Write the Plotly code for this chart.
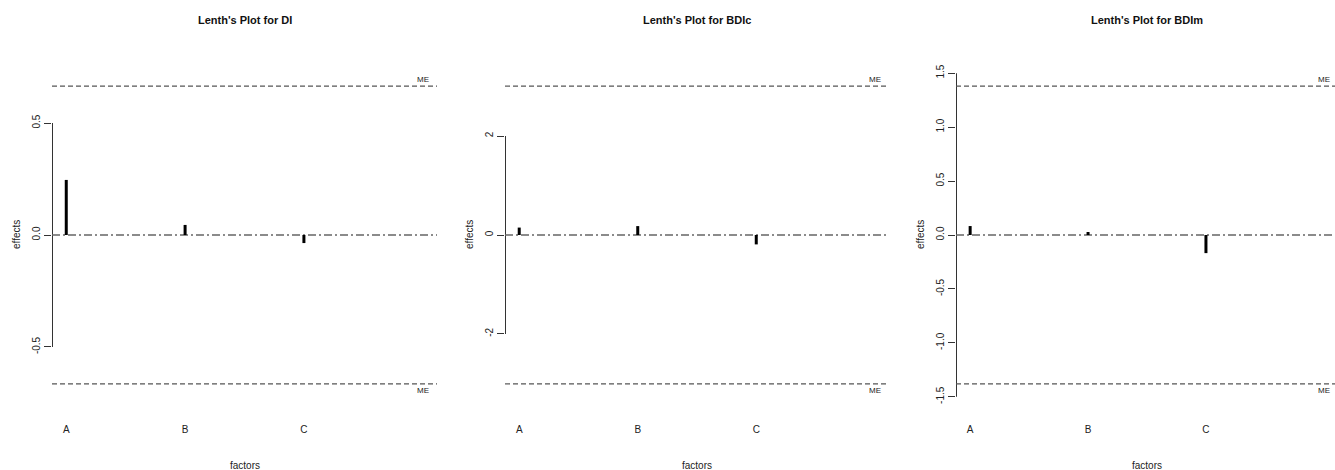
import plotly.graph_objects as go

# ---- data ----
factors = ["A", "B", "C"]
responses = ["DI", "BDIc", "BDIm"]
effects_DI = [0.246, 0.045, -0.036]
effects_BDIc = [0.15, 0.18, -0.19]
effects_BDIm = [0.083, 0.028, -0.168]
me_values = [0.665, 3.01, 1.38]
ytick_vals = [[-0.5, 0.0, 0.5], [-2, 0, 2], [-1.5, -1.0, -0.5, 0.0, 0.5, 1.0, 1.5]]
ytick_text = [["-0.5", "0.0", "0.5"], ["-2", "0", "2"],
              ["-1.5", "-1.0", "-0.5", "0.0", "0.5", "1.0", "1.5"]]
effects_all = [effects_DI, effects_BDIc, effects_BDIm]

W, H = 1335, 470
FONT = "Liberation Sans, Arial, sans-serif"
# panel pixel extents
px_left = [52, 505, 956]
px_right = [437, 889, 1338]
top_px, bot_px = 62, 408
xr = [0.88, 4.12]
# y half-range relative to ME (same layout in all panels)
yscale = 1.162

fig = go.Figure()
layout = dict(
    width=W, height=H, margin=dict(l=0, r=0, t=0, b=0),
    paper_bgcolor="white", plot_bgcolor="white", showlegend=False,
    font=dict(family=FONT, size=10, color="#222"),
)
annotations = []

xpos = list(range(1, len(factors) + 1))
for i, (resp, eff, me) in enumerate(zip(responses, effects_all, me_values)):
    n = i + 1
    xa = "x" if n == 1 else f"x{n}"
    ya = "y" if n == 1 else f"y{n}"
    yr = me * yscale
    dom_x = [px_left[i] / W, min(px_right[i], W) / W]
    xr_i = list(xr)
    if px_right[i] > W:
        # clip the last panel at the page edge, keeping the same scale
        scale = (xr[1] - xr[0]) / (px_right[i] - px_left[i])
        xr_i[1] = xr[0] + (W - px_left[i]) * scale
    dom_y = [1 - bot_px / H, 1 - top_px / H]
    layout[f"xaxis{'' if n == 1 else n}"] = dict(
        domain=dom_x, range=xr_i, anchor=ya, showgrid=False, zeroline=False,
        showline=False, tickvals=xpos, ticktext=factors, ticks="outside",
        ticklen=12, tickcolor="rgba(0,0,0,0)", tickfont=dict(size=10, color="#222"),
        fixedrange=True,
    )
    layout[f"yaxis{'' if n == 1 else n}"] = dict(
        domain=dom_y, range=[-yr, yr], anchor=xa, showgrid=False, zeroline=False,
        showline=False, tickvals=ytick_vals[i], ticktext=ytick_text[i],
        ticks="outside", ticklen=7, tickcolor="#333", tickwidth=1,
        tickangle=-90, tickfont=dict(size=10, color="#222"), fixedrange=True,
    )
    # y axis line spanning tick range (R style)
    tv = ytick_vals[i]
    fig.add_trace(go.Scatter(x=[xr_i[0], xr_i[0]], y=[min(tv), max(tv)], mode="lines",
                             line=dict(color="#333", width=2), xaxis=xa, yaxis=ya,
                             hoverinfo="skip"))
    # zero line (dot-dash)
    fig.add_trace(go.Scatter(x=xr_i, y=[0, 0], mode="lines",
                             line=dict(color="#666", width=1.3, dash="8px,3px,2px,3px"),
                             xaxis=xa, yaxis=ya, hoverinfo="skip"))
    # ME lines
    for s in (1, -1):
        fig.add_trace(go.Scatter(x=xr_i, y=[s * me, s * me], mode="lines",
                                 line=dict(color="#555", width=1.2, dash="5px,3px"),
                                 xaxis=xa, yaxis=ya, hoverinfo="skip"))
        annotations.append(dict(x=4, y=s * me, xref=xa, yref=ya, text="ME",
                                showarrow=False, yshift=7 * s,
                                font=dict(size=8, color="#222")))
    # effect bars
    bx, by = [], []
    for xv, ev in zip(xpos, eff):
        bx += [xv, xv, None]
        by += [0, ev, None]
    fig.add_trace(go.Scatter(x=bx, y=by, mode="lines",
                             line=dict(color="black", width=3),
                             xaxis=xa, yaxis=ya, hoverinfo="skip"))
    cx = (px_left[i] + px_right[i]) / 2 / W
    annotations.append(dict(x=cx, y=1 - 20 / H, xref="paper", yref="paper",
                            text=f"<b>Lenth's Plot for {resp}</b>", showarrow=False,
                            font=dict(size=11, color="#111"), xanchor="center",
                            yanchor="middle"))
    annotations.append(dict(x=cx, y=1 - 465 / H, xref="paper", yref="paper",
                            text="factors", showarrow=False,
                            font=dict(size=10, color="#222"), xanchor="center",
                            yanchor="middle"))
    annotations.append(dict(x=(px_left[i] - 36) / W, y=1 - 235 / H, xref="paper",
                            yref="paper", text="effects", showarrow=False,
                            textangle=-90, font=dict(size=10, color="#222"),
                            xanchor="center", yanchor="middle"))

layout["annotations"] = annotations
fig.update_layout(**layout)
fig.write_html(
    "out.html",
    config={"displayModeBar": False},
    post_script="document.body.style.margin='0';document.body.style.padding='0';"
                "document.body.style.overflow='hidden';",
)
